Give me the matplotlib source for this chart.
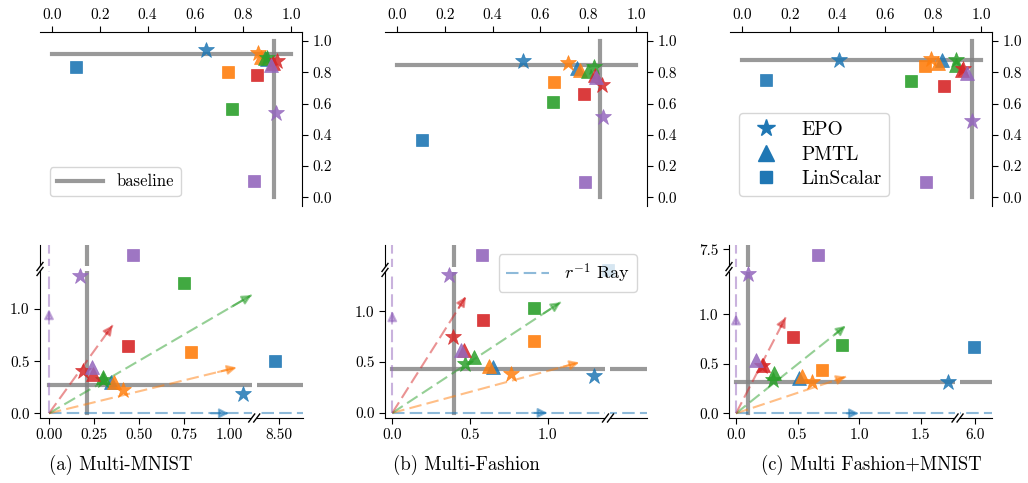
import numpy as np
import matplotlib
matplotlib.use("Agg")
import matplotlib.pyplot as plt
from matplotlib.patches import Rectangle
from matplotlib.lines import Line2D
from matplotlib.ticker import FixedLocator, FormatStrFormatter

plt.rcParams['font.family'] = 'serif'
plt.rcParams['font.serif'] = ['cmr10']
plt.rcParams['mathtext.fontset'] = 'cm'
plt.rcParams['axes.formatter.use_mathtext'] = True

colors = ['tab:blue', 'tab:orange', 'tab:green', 'tab:red', 'tab:purple']
captions = ['(a) Multi-MNIST', '(b) Multi-Fashion', '(c) Multi Fashion+MNIST']

# top row: accuracy of task 1 (x) and task 2 (y), one value per preference ray
acc_epo_x = [[0.644, 0.863, 0.900, 0.940, 0.937],
             [0.526, 0.714, 0.824, 0.856, 0.861],
             [0.406, 0.790, 0.894, 0.926, 0.963]]
acc_epo_y = [[0.940, 0.921, 0.890, 0.872, 0.540],
             [0.871, 0.860, 0.834, 0.722, 0.516],
             [0.881, 0.888, 0.881, 0.824, 0.490]]
acc_pmtl_x = [[0.898, 0.875, 0.891, 0.925, 0.915],
              [0.755, 0.766, 0.800, 0.828, 0.833],
              [0.835, 0.820, 0.895, 0.919, 0.940]]
acc_pmtl_y = [[0.885, 0.900, 0.889, 0.860, 0.850],
              [0.828, 0.818, 0.807, 0.780, 0.767],
              [0.877, 0.860, 0.845, 0.813, 0.796]]
acc_lin_x = [[0.099, 0.738, 0.754, 0.856, 0.845],
             [0.105, 0.657, 0.651, 0.782, 0.787],
             [0.099, 0.766, 0.707, 0.846, 0.770]]
acc_lin_y = [[0.833, 0.803, 0.564, 0.782, 0.103],
             [0.368, 0.739, 0.611, 0.659, 0.100],
             [0.748, 0.841, 0.743, 0.711, 0.096]]
acc_base_x = [0.929, 0.849, 0.961]
acc_base_y = [0.915, 0.845, 0.881]

# bottom row: loss of task 1 (x) and task 2 (y)
loss_epo_x = [[1.076, 0.413, 0.298, 0.190, 0.172],
              [1.300, 0.762, 0.468, 0.388, 0.367],
              [1.726, 0.620, 0.303, 0.215, 0.095]]
loss_epo_y = [[0.189, 0.221, 0.317, 0.404, 1.320],
              [0.359, 0.385, 0.483, 0.750, 1.356],
              [0.313, 0.320, 0.336, 0.480, 1.407]]
loss_pmtl_x = [[0.343, 0.363, 0.300, 0.246, 0.240],
               [0.646, 0.622, 0.528, 0.461, 0.440],
               [0.512, 0.534, 0.312, 0.217, 0.163]]
loss_pmtl_y = [[0.300, 0.300, 0.350, 0.375, 0.440],
               [0.447, 0.457, 0.545, 0.620, 0.620],
               [0.360, 0.380, 0.410, 0.488, 0.538]]
loss_lin_x = [[8.479, 0.789, 0.748, 0.437, 0.468],
              [np.nan, 0.912, 0.912, 0.586, 0.575],
              [5.987, 0.697, 0.859, 0.461, 0.669]]
loss_lin_y = [[0.500, 0.587, 1.253, 0.644, 5.000],
              [np.nan, 0.702, 1.035, 0.915, 4.000],
              [0.673, 0.437, 0.690, 0.774, 7.443]]
loss_base_x = [0.209, 0.397, 0.100]
loss_base_y = [0.269, 0.431, 0.320]

# tips of the r^-1 rays
ray_x = [[1.0, 1.043, 1.126, 0.354, 0.0],
         [1.0, 1.203, 1.084, 0.474, 0.0],
         [1.0, 0.894, 0.892, 0.404, 0.0]]
ray_y = [[0.0, 0.440, 1.135, 0.846, 1.0],
         [0.0, 0.496, 1.088, 1.144, 1.0],
         [0.0, 0.370, 0.885, 0.970, 1.0]]

# broken axes: (break value, jump across the break)
xbreak = [(1.14, 7.222), (1.388, 5.0), (1.80, 4.057)]
ybreak = [(1.385, 3.48), (1.405, 2.45), (1.457, 5.843)]
xlim_u = [(-0.05, 1.411), (-0.047, 1.639), (-0.057, 2.08)]
ylim_u = [(-0.045, 1.615), (-0.05, 1.65), (-0.047, 1.70)]
xticks = [[0, 0.25, 0.5, 0.75, 1.0, 8.5], [0, 0.5, 1.0], [0, 0.5, 1.0, 1.5, 6.0]]
xfmt = ['%.2f', '%.1f', '%.1f']
yticks = [[0, 0.5, 1.0], [0, 0.5, 1.0], [0, 0.5, 1.0, 7.5]]

W, H = 1028, 483
top_left = [40, 385, 730]
bot_left = [40, 385, 729]
bot_w = [263, 262, 263]


def split_scale(b, off):
    def fwd(v):
        v = np.asarray(v, dtype=float)
        return np.where(v <= b, v, np.where(v >= b + off, v - off, b))

    def inv(u):
        u = np.asarray(u, dtype=float)
        return np.where(u <= b, u, u + off)
    return fwd, inv


def mark_break(ax, frac, which, wpx, hpx):
    kw = dict(transform=ax.transAxes, clip_on=False, color='k', lw=1.0, zorder=5)
    if which == 'x':
        g = 2.5 / wpx
        ax.add_patch(Rectangle((frac - g, -6 / hpx), 2 * g, 1 + 6 / hpx, transform=ax.transAxes,
                               fc='white', ec='none', clip_on=False, zorder=2.6))
        for s in (-g, g):
            ax.plot([frac + s - 3 / wpx, frac + s + 3 / wpx], [-4 / hpx, 4 / hpx], **kw)
    else:
        g = 2.5 / hpx
        ax.add_patch(Rectangle((-6 / wpx, frac - g), 1 + 6 / wpx, 2 * g, transform=ax.transAxes,
                               fc='white', ec='none', clip_on=False, zorder=2.6))
        for s in (-g, g):
            ax.plot([-3 / wpx, 3 / wpx], [frac + s - 4 / hpx, frac + s + 4 / hpx], **kw)


def draw_points(ax, ex, ey, px, py, lx, ly):
    for i, c in enumerate(colors):
        ax.plot(lx[i], ly[i], 's', ms=9, color=c, alpha=0.9, mew=0.5, zorder=3)
        ax.plot(px[i], py[i], '^', ms=10, color=c, alpha=0.85, mew=0.5, zorder=3)
        ax.plot(ex[i], ey[i], '*', ms=12, color=c, alpha=0.85, mew=0.5, zorder=3)


fig = plt.figure(figsize=(W / 100, H / 100), dpi=100)

for k in range(3):
    # accuracy panel
    ax = fig.add_axes([top_left[k] / W, 1 - 206 / H, 262 / W, 174 / H])
    ax.hlines(acc_base_y[k], 0, 1, color='gray', alpha=0.8, lw=3, capstyle='projecting', zorder=2)
    ax.vlines(acc_base_x[k], 0, 1, color='gray', alpha=0.8, lw=3, capstyle='projecting', zorder=2)
    draw_points(ax, acc_epo_x[k], acc_epo_y[k], acc_pmtl_x[k], acc_pmtl_y[k],
                acc_lin_x[k], acc_lin_y[k])
    ax.set_xlim(-0.05, 1.046)
    ax.set_ylim(-0.055, 1.058)
    ax.xaxis.tick_top()
    ax.yaxis.tick_right()
    ax.spines['left'].set_visible(False)
    ax.spines['bottom'].set_visible(False)
    ax.set_xticks(np.arange(0, 1.01, 0.2))
    ax.set_yticks(np.arange(0, 1.01, 0.2))
    ax.xaxis.set_major_formatter(FormatStrFormatter('%.1f'))
    ax.yaxis.set_major_formatter(FormatStrFormatter('%.1f'))
    ax.tick_params(labelsize=11, length=4)
    if k == 0:
        h = [Line2D([], [], color='gray', alpha=0.8, lw=3)]
        ax.legend(h, ['baseline'], loc='lower left', bbox_to_anchor=(0.038, 0.057),
                  borderaxespad=0, fontsize=12, handlelength=2.8)
    if k == 2:
        h = [Line2D([], [], marker=m, ls='none', color=colors[0], ms=s)
             for m, s in (('*', 13), ('^', 11), ('s', 9))]
        ax.legend(h, ['EPO', 'PMTL', 'LinScalar'], loc='lower left',
                  bbox_to_anchor=(0.034, 0.057), borderaxespad=0, fontsize=14,
                  labelspacing=0.35)

    # loss panel with broken axes
    ax = fig.add_axes([bot_left[k] / W, 1 - 418 / H, bot_w[k] / W, 173 / H])
    bx, ox = xbreak[k]
    by, oy = ybreak[k]
    ax.set_xscale('function', functions=split_scale(bx, ox))
    ax.set_yscale('function', functions=split_scale(by, oy))
    ax.hlines(loss_base_y[k], 0, 100, color='gray', alpha=0.8, lw=3, capstyle='projecting', zorder=2)
    ax.vlines(loss_base_x[k], 0, 100, color='gray', alpha=0.8, lw=3, capstyle='projecting', zorder=2)
    for i, c in enumerate(colors):
        tx, ty = ray_x[k][i], ray_y[k][i]
        lx = 100 if ty == 0 else tx
        ly = 100 if tx == 0 else ty
        ax.plot([0, lx], [0, ly], color=c, alpha=0.5, lw=1.5, dashes=(6, 2.5), zorder=2)
        ax.annotate('', xy=(tx, ty), xytext=(tx * 0.9, ty * 0.9),
                    arrowprops=dict(arrowstyle='-|>', color=c, alpha=0.5, lw=1.5,
                                    mutation_scale=14, shrinkA=0, shrinkB=0), zorder=2)
    draw_points(ax, loss_epo_x[k], loss_epo_y[k], loss_pmtl_x[k], loss_pmtl_y[k],
                loss_lin_x[k], loss_lin_y[k])
    ax.set_xlim(xlim_u[k][0], xlim_u[k][1] + ox)
    ax.set_ylim(ylim_u[k][0], ylim_u[k][1] + oy)
    ax.spines['top'].set_visible(False)
    ax.spines['right'].set_visible(False)
    ax.xaxis.set_major_locator(FixedLocator(xticks[k]))
    ax.yaxis.set_major_locator(FixedLocator(yticks[k]))
    ax.xaxis.set_minor_locator(FixedLocator([]))
    ax.yaxis.set_minor_locator(FixedLocator([]))
    ax.xaxis.set_major_formatter(FormatStrFormatter(xfmt[k]))
    ax.yaxis.set_major_formatter(FormatStrFormatter('%.1f'))
    ax.tick_params(labelsize=11, length=4)
    fx = (bx - xlim_u[k][0]) / (xlim_u[k][1] - xlim_u[k][0])
    fy = (by - ylim_u[k][0]) / (ylim_u[k][1] - ylim_u[k][0])
    mark_break(ax, fx, 'x', bot_w[k], 173)
    mark_break(ax, fy, 'y', bot_w[k], 173)
    if k == 1:
        h = [Line2D([], [], color=colors[0], alpha=0.5, lw=1.5, dashes=(6, 2.5))]
        ax.legend(h, [r'$r^{-1}$ Ray'], loc='upper right', bbox_to_anchor=(0.962, 0.948),
                  borderaxespad=0, fontsize=13, handlelength=2.4)

cap_x = [121, 466, 871]
for k in range(3):
    fig.text(cap_x[k] / W, 1 - 465 / H, captions[k], ha='center', va='center', fontsize=13.5)

fig.savefig('out.png', dpi=100)
